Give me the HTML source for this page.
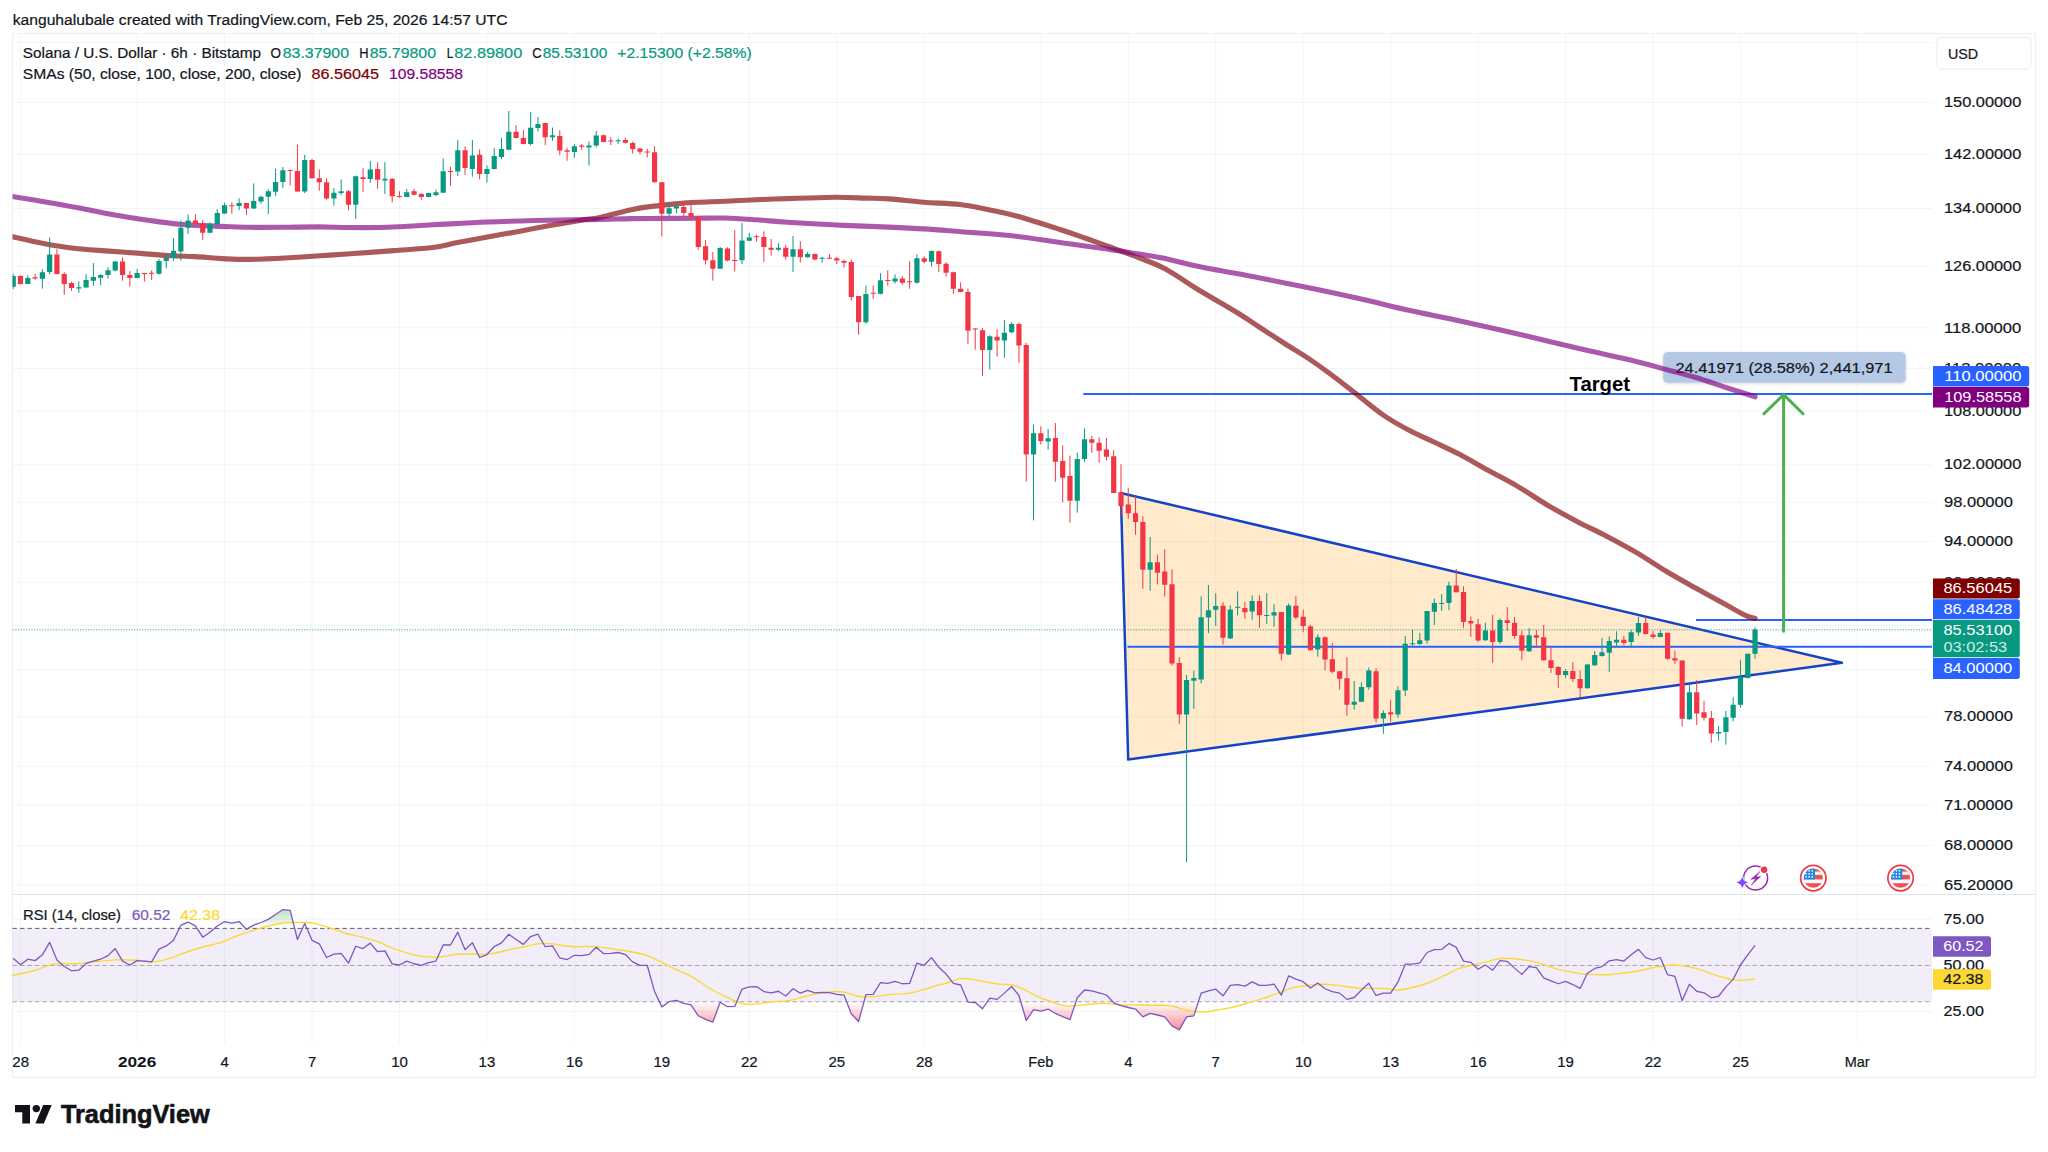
<!DOCTYPE html>
<html lang="en"><head><meta charset="utf-8"><title>SOLUSD chart</title>
<style>html,body{margin:0;padding:0;background:#fff}svg{display:block}</style></head>
<body>
<svg width="2048" height="1152" viewBox="0 0 2048 1152" font-family='"Liberation Sans", Arial, sans-serif'>
<defs>
<linearGradient id="gOB" gradientUnits="userSpaceOnUse" x1="0" y1="928.4" x2="0" y2="900"><stop offset="0" stop-color="#4CAF50" stop-opacity="0"/><stop offset="1" stop-color="#4CAF50" stop-opacity="0.55"/></linearGradient>
<linearGradient id="gOS" gradientUnits="userSpaceOnUse" x1="0" y1="1001.8" x2="0" y2="1032"><stop offset="0" stop-color="#F23645" stop-opacity="0"/><stop offset="1" stop-color="#F23645" stop-opacity="0.6"/></linearGradient>
<clipPath id="cOB"><rect x="12.5" y="894.5" width="1919.5" height="33.89999999999998"/></clipPath>
<clipPath id="cOS"><rect x="12.5" y="1001.8" width="1919.5" height="42"/></clipPath>
<clipPath id="cPlot"><rect x="12.5" y="33.5" width="1919.5" height="861.0"/></clipPath>
<clipPath id="cFlag"><circle cx="0" cy="0" r="9.6"/></clipPath>
<filter id="sh" x="-10%" y="-30%" width="120%" height="170%"><feDropShadow dx="0" dy="0.8" stdDeviation="1.6" flood-color="#1a2a4a" flood-opacity="0.22"/></filter>
</defs>
<rect width="2048" height="1152" fill="#fff"/>
<path d="M20.50,33.5V1043.0M137.11,33.5V1043.0M224.57,33.5V1043.0M312.03,33.5V1043.0M399.49,33.5V1043.0M486.95,33.5V1043.0M574.41,33.5V1043.0M661.87,33.5V1043.0M749.32,33.5V1043.0M836.78,33.5V1043.0M924.24,33.5V1043.0M1040.86,33.5V1043.0M1128.31,33.5V1043.0M1215.77,33.5V1043.0M1303.23,33.5V1043.0M1390.69,33.5V1043.0M1478.15,33.5V1043.0M1565.61,33.5V1043.0M1653.07,33.5V1043.0M1740.53,33.5V1043.0M1857.14,33.5V1043.0M12.5,42.5H1932.0M12.5,102.50H1932.0M12.5,153.98H1932.0M12.5,208.45H1932.0M12.5,266.27H1932.0M12.5,327.89H1932.0M12.5,368.55H1932.0M12.5,411.06H1932.0M12.5,464.75H1932.0M12.5,502.33H1932.0M12.5,541.47H1932.0M12.5,582.32H1932.0M12.5,625.02H1932.0M12.5,669.76H1932.0M12.5,716.73H1932.0M12.5,766.18H1932.0M12.5,805.05H1932.0M12.5,845.61H1932.0M12.5,885.10H1932.0M12.5,919.30H1932.0M12.5,965.40H1932.0M12.5,1011.50H1932.0" stroke="#F3F4F6" stroke-width="1" fill="none"/>
<rect x="12.5" y="33.5" width="2023.0" height="1044.0" fill="none" stroke="#EFF0F2" stroke-width="1.2"/>
<path d="M12.5,894.5H2035.5" stroke="#E0E3EB" stroke-width="1.2"/>
<rect x="12.5" y="928.4" width="1919.5" height="73.39999999999998" fill="#7E57C2" fill-opacity="0.1"/>
<polygon points="12.5,928.4 13.21,958.28 20.50,964.69 27.79,959.22 35.08,960.62 42.36,954.84 49.65,942.34 56.94,960.00 64.23,966.56 71.52,970.78 78.80,970.16 86.09,963.44 93.38,961.09 100.67,959.22 107.96,955.62 115.24,948.59 122.53,961.09 129.82,965.00 137.11,960.62 144.40,961.09 151.68,961.88 158.97,949.06 166.26,945.94 173.55,940.31 180.84,925.16 188.12,922.03 195.41,925.94 202.70,937.19 209.99,932.19 217.28,925.94 224.56,921.56 231.85,923.12 239.14,921.56 246.43,929.38 253.72,925.16 261.00,922.50 268.29,919.38 275.58,914.53 282.87,909.53 290.16,910.31 297.44,939.53 304.73,923.59 312.02,940.31 319.31,943.91 326.60,957.50 333.88,954.06 341.17,953.28 348.46,963.12 355.75,946.25 363.04,948.59 370.32,943.12 377.61,951.72 384.90,950.94 392.19,963.91 399.48,965.00 406.76,961.09 414.05,963.75 421.34,965.47 428.63,962.66 435.92,961.09 443.20,945.00 450.49,945.00 457.78,932.19 465.07,949.69 472.36,942.66 479.64,957.50 486.93,954.53 494.22,946.56 501.51,942.81 508.80,934.22 516.08,939.53 523.37,944.38 530.66,936.56 537.95,934.22 545.24,946.72 552.52,945.94 559.81,957.97 567.10,959.53 574.39,955.31 581.68,955.62 588.96,954.38 596.25,947.34 603.54,953.59 610.83,953.28 618.12,952.50 625.40,954.53 632.69,961.88 639.98,965.31 647.27,965.47 654.56,991.56 661.84,1006.88 669.13,1001.72 676.42,1000.47 683.71,1003.28 691.00,1004.84 698.28,1015.78 705.57,1019.38 712.86,1022.03 720.15,1002.19 727.44,1006.72 734.72,1006.41 742.01,989.22 749.30,986.88 756.59,986.56 763.88,991.56 771.16,992.81 778.45,991.25 785.74,995.94 793.03,988.75 800.32,993.12 807.60,990.47 814.89,992.81 822.18,992.34 829.47,992.66 836.76,994.38 844.04,995.16 851.33,1013.75 858.62,1021.56 865.91,994.69 873.20,994.38 880.48,982.66 887.77,983.28 895.06,981.41 902.35,983.75 909.64,983.44 916.92,963.12 924.21,965.31 931.50,957.66 938.79,967.34 946.08,974.06 953.36,983.44 960.65,985.00 967.94,1002.03 975.23,1002.50 982.52,1008.75 989.80,998.12 997.09,999.38 1004.38,993.12 1011.67,986.56 1018.96,995.47 1026.24,1020.47 1033.53,1009.53 1040.82,1011.09 1048.11,1009.06 1055.40,1013.44 1062.68,1016.56 1069.97,1019.69 1077.26,997.81 1084.55,990.00 1091.84,990.78 1099.12,992.81 1106.41,995.00 1113.70,1002.81 1120.99,1005.62 1128.28,1007.50 1135.56,1009.06 1142.85,1016.88 1150.14,1013.44 1157.43,1015.00 1164.72,1016.88 1172.00,1025.94 1179.29,1029.84 1186.58,1016.88 1193.87,1015.78 1201.16,993.12 1208.44,990.78 1215.73,989.22 1223.02,995.78 1230.31,985.31 1237.60,984.53 1244.88,986.09 1252.17,981.88 1259.46,985.31 1266.75,985.31 1274.04,984.06 1281.32,995.16 1288.61,975.94 1295.90,979.06 1303.19,981.72 1310.48,987.97 1317.76,982.97 1325.05,988.75 1332.34,991.56 1339.63,993.12 1346.92,999.38 1354.20,997.50 1361.49,990.00 1368.78,983.28 1376.07,995.47 1383.36,993.12 1390.64,993.12 1397.93,982.19 1405.22,964.22 1412.51,964.22 1419.80,962.97 1427.08,952.50 1434.37,949.69 1441.66,949.38 1448.95,943.44 1456.24,947.34 1463.52,961.09 1470.81,962.34 1478.10,969.22 1485.39,965.00 1492.68,970.16 1499.96,960.62 1507.25,961.41 1514.54,968.12 1521.83,974.38 1529.12,966.56 1536.40,967.66 1543.69,977.97 1550.98,980.94 1558.27,983.75 1565.56,981.41 1572.84,984.53 1580.13,988.44 1587.42,973.28 1594.71,968.44 1602.00,966.56 1609.28,960.78 1616.57,959.53 1623.86,961.09 1631.15,954.84 1638.44,949.38 1645.72,957.66 1653.01,960.00 1660.30,957.50 1667.59,974.69 1674.88,976.41 1682.16,1000.47 1689.45,984.22 1696.74,991.25 1704.03,992.81 1711.32,997.81 1718.60,996.25 1725.89,986.88 1733.18,979.38 1740.47,965.00 1747.76,954.84 1755.04,945.47 1755.04,928.4" fill="url(#gOB)" clip-path="url(#cOB)"/>
<polygon points="12.5,1001.8 13.21,958.28 20.50,964.69 27.79,959.22 35.08,960.62 42.36,954.84 49.65,942.34 56.94,960.00 64.23,966.56 71.52,970.78 78.80,970.16 86.09,963.44 93.38,961.09 100.67,959.22 107.96,955.62 115.24,948.59 122.53,961.09 129.82,965.00 137.11,960.62 144.40,961.09 151.68,961.88 158.97,949.06 166.26,945.94 173.55,940.31 180.84,925.16 188.12,922.03 195.41,925.94 202.70,937.19 209.99,932.19 217.28,925.94 224.56,921.56 231.85,923.12 239.14,921.56 246.43,929.38 253.72,925.16 261.00,922.50 268.29,919.38 275.58,914.53 282.87,909.53 290.16,910.31 297.44,939.53 304.73,923.59 312.02,940.31 319.31,943.91 326.60,957.50 333.88,954.06 341.17,953.28 348.46,963.12 355.75,946.25 363.04,948.59 370.32,943.12 377.61,951.72 384.90,950.94 392.19,963.91 399.48,965.00 406.76,961.09 414.05,963.75 421.34,965.47 428.63,962.66 435.92,961.09 443.20,945.00 450.49,945.00 457.78,932.19 465.07,949.69 472.36,942.66 479.64,957.50 486.93,954.53 494.22,946.56 501.51,942.81 508.80,934.22 516.08,939.53 523.37,944.38 530.66,936.56 537.95,934.22 545.24,946.72 552.52,945.94 559.81,957.97 567.10,959.53 574.39,955.31 581.68,955.62 588.96,954.38 596.25,947.34 603.54,953.59 610.83,953.28 618.12,952.50 625.40,954.53 632.69,961.88 639.98,965.31 647.27,965.47 654.56,991.56 661.84,1006.88 669.13,1001.72 676.42,1000.47 683.71,1003.28 691.00,1004.84 698.28,1015.78 705.57,1019.38 712.86,1022.03 720.15,1002.19 727.44,1006.72 734.72,1006.41 742.01,989.22 749.30,986.88 756.59,986.56 763.88,991.56 771.16,992.81 778.45,991.25 785.74,995.94 793.03,988.75 800.32,993.12 807.60,990.47 814.89,992.81 822.18,992.34 829.47,992.66 836.76,994.38 844.04,995.16 851.33,1013.75 858.62,1021.56 865.91,994.69 873.20,994.38 880.48,982.66 887.77,983.28 895.06,981.41 902.35,983.75 909.64,983.44 916.92,963.12 924.21,965.31 931.50,957.66 938.79,967.34 946.08,974.06 953.36,983.44 960.65,985.00 967.94,1002.03 975.23,1002.50 982.52,1008.75 989.80,998.12 997.09,999.38 1004.38,993.12 1011.67,986.56 1018.96,995.47 1026.24,1020.47 1033.53,1009.53 1040.82,1011.09 1048.11,1009.06 1055.40,1013.44 1062.68,1016.56 1069.97,1019.69 1077.26,997.81 1084.55,990.00 1091.84,990.78 1099.12,992.81 1106.41,995.00 1113.70,1002.81 1120.99,1005.62 1128.28,1007.50 1135.56,1009.06 1142.85,1016.88 1150.14,1013.44 1157.43,1015.00 1164.72,1016.88 1172.00,1025.94 1179.29,1029.84 1186.58,1016.88 1193.87,1015.78 1201.16,993.12 1208.44,990.78 1215.73,989.22 1223.02,995.78 1230.31,985.31 1237.60,984.53 1244.88,986.09 1252.17,981.88 1259.46,985.31 1266.75,985.31 1274.04,984.06 1281.32,995.16 1288.61,975.94 1295.90,979.06 1303.19,981.72 1310.48,987.97 1317.76,982.97 1325.05,988.75 1332.34,991.56 1339.63,993.12 1346.92,999.38 1354.20,997.50 1361.49,990.00 1368.78,983.28 1376.07,995.47 1383.36,993.12 1390.64,993.12 1397.93,982.19 1405.22,964.22 1412.51,964.22 1419.80,962.97 1427.08,952.50 1434.37,949.69 1441.66,949.38 1448.95,943.44 1456.24,947.34 1463.52,961.09 1470.81,962.34 1478.10,969.22 1485.39,965.00 1492.68,970.16 1499.96,960.62 1507.25,961.41 1514.54,968.12 1521.83,974.38 1529.12,966.56 1536.40,967.66 1543.69,977.97 1550.98,980.94 1558.27,983.75 1565.56,981.41 1572.84,984.53 1580.13,988.44 1587.42,973.28 1594.71,968.44 1602.00,966.56 1609.28,960.78 1616.57,959.53 1623.86,961.09 1631.15,954.84 1638.44,949.38 1645.72,957.66 1653.01,960.00 1660.30,957.50 1667.59,974.69 1674.88,976.41 1682.16,1000.47 1689.45,984.22 1696.74,991.25 1704.03,992.81 1711.32,997.81 1718.60,996.25 1725.89,986.88 1733.18,979.38 1740.47,965.00 1747.76,954.84 1755.04,945.47 1755.04,1001.8" fill="url(#gOS)" clip-path="url(#cOS)"/>
<path d="M12.5,928.4H1932.0" stroke="#5D606B" stroke-width="1" stroke-dasharray="4.4 3.1" fill="none"/>
<path d="M12.5,965.5H1932.0" stroke="#A3A6AF" stroke-width="1" stroke-dasharray="4.4 3.1" fill="none"/>
<path d="M12.5,1001.8H1932.0" stroke="#A3A6AF" stroke-width="1.1" stroke-dasharray="4.4 3.1" fill="none"/>
<path d="M12.50,975.46C12.71,975.41 10.10,975.99 13.75,975.16C17.40,974.33 27.55,972.34 34.38,970.47C41.20,968.59 47.92,965.03 54.69,963.91C61.46,962.79 68.49,964.09 75.00,963.75C81.51,963.41 86.98,962.53 93.75,961.88C100.52,961.22 108.33,960.10 115.62,959.84C122.92,959.58 131.51,959.97 137.50,960.31C143.49,960.65 147.40,961.88 151.56,961.88C155.73,961.88 158.85,961.09 162.50,960.31C166.15,959.53 169.27,958.62 173.44,957.19C177.60,955.76 182.55,953.41 187.50,951.72C192.45,950.03 197.92,948.46 203.12,947.03C208.33,945.60 213.54,944.82 218.75,943.12C223.96,941.43 229.17,938.83 234.38,936.88C239.58,934.92 244.79,933.10 250.00,931.41C255.21,929.71 260.42,928.07 265.62,926.72C270.83,925.36 277.08,923.98 281.25,923.28C285.42,922.58 286.72,922.63 290.62,922.50C294.53,922.37 300.52,922.32 304.69,922.50C308.85,922.68 311.20,922.63 315.62,923.59C320.05,924.56 326.04,926.59 331.25,928.28C336.46,929.97 341.67,932.27 346.88,933.75C352.08,935.23 357.29,935.83 362.50,937.19C367.71,938.54 372.92,939.97 378.12,941.88C383.33,943.78 388.54,946.64 393.75,948.59C398.96,950.55 404.69,952.29 409.38,953.59C414.06,954.90 417.45,955.81 421.88,956.41C426.30,957.01 432.29,957.19 435.94,957.19C439.58,957.19 440.36,956.88 443.75,956.41C447.14,955.94 451.56,954.77 456.25,954.38C460.94,953.98 467.19,954.04 471.88,954.06C476.56,954.09 480.21,954.74 484.38,954.53C488.54,954.32 492.45,953.67 496.88,952.81C501.30,951.95 505.99,950.47 510.94,949.38C515.89,948.28 521.88,947.21 526.56,946.25C531.25,945.29 535.16,944.04 539.06,943.59C542.97,943.15 546.09,943.28 550.00,943.59C553.91,943.91 558.33,944.95 562.50,945.47C566.67,945.99 569.79,946.54 575.00,946.72C580.21,946.90 588.80,946.38 593.75,946.56C598.70,946.74 601.04,947.34 604.69,947.81C608.33,948.28 611.20,948.72 615.62,949.38C620.05,950.03 626.04,950.68 631.25,951.72C636.46,952.76 641.67,953.80 646.88,955.62C652.08,957.45 657.29,960.18 662.50,962.66C667.71,965.13 673.70,968.39 678.12,970.47C682.55,972.55 685.16,973.07 689.06,975.16C692.97,977.24 697.66,980.49 701.56,982.97C705.47,985.44 708.59,987.79 712.50,990.00C716.41,992.21 721.09,994.38 725.00,996.25C728.91,998.12 732.81,1000.00 735.94,1001.25C739.06,1002.50 741.41,1003.23 743.75,1003.75C746.09,1004.27 747.40,1004.40 750.00,1004.38C752.60,1004.35 755.73,1004.04 759.38,1003.59C763.02,1003.15 767.19,1002.21 771.88,1001.72C776.56,1001.22 782.29,1001.41 787.50,1000.62C792.71,999.84 798.44,998.15 803.12,997.03C807.81,995.91 811.72,994.69 815.62,993.91C819.53,993.12 822.92,992.73 826.56,992.34C830.21,991.95 834.38,991.56 837.50,991.56C840.62,991.56 841.93,991.56 845.31,992.34C848.70,993.12 853.39,995.52 857.81,996.25C862.24,996.98 866.67,996.98 871.88,996.72C877.08,996.46 882.81,995.29 889.06,994.69C895.31,994.09 903.65,993.96 909.38,993.12C915.10,992.29 919.01,990.94 923.44,989.69C927.86,988.44 932.03,986.74 935.94,985.62C939.84,984.51 942.71,984.14 946.88,982.97C951.04,981.80 956.25,979.11 960.94,978.59C965.62,978.07 970.57,979.24 975.00,979.84C979.43,980.44 983.33,981.46 987.50,982.19C991.67,982.92 996.09,983.83 1000.00,984.22C1003.91,984.61 1007.81,984.04 1010.94,984.53C1014.06,985.03 1015.62,985.89 1018.75,987.19C1021.88,988.49 1026.04,990.57 1029.69,992.34C1033.33,994.11 1036.98,996.25 1040.62,997.81C1044.27,999.38 1047.92,1000.47 1051.56,1001.72C1055.21,1002.97 1059.38,1004.58 1062.50,1005.31C1065.62,1006.04 1066.67,1006.17 1070.31,1006.09C1073.96,1006.02 1078.91,1005.31 1084.38,1004.84C1089.84,1004.38 1097.40,1003.28 1103.12,1003.28C1108.85,1003.28 1113.54,1004.58 1118.75,1004.84C1123.96,1005.10 1129.17,1004.77 1134.38,1004.84C1139.58,1004.92 1144.01,1005.18 1150.00,1005.31C1155.99,1005.44 1165.10,1005.05 1170.31,1005.62C1175.52,1006.20 1177.34,1007.76 1181.25,1008.75C1185.16,1009.74 1189.58,1011.04 1193.75,1011.56C1197.92,1012.08 1202.60,1012.08 1206.25,1011.88C1209.90,1011.67 1211.46,1011.04 1215.62,1010.31C1219.79,1009.58 1226.04,1008.67 1231.25,1007.50C1236.46,1006.33 1241.67,1004.77 1246.88,1003.28C1252.08,1001.80 1257.29,1000.29 1262.50,998.59C1267.71,996.90 1272.92,994.95 1278.12,993.12C1283.33,991.30 1288.54,988.96 1293.75,987.66C1298.96,986.35 1304.17,985.89 1309.38,985.31C1314.58,984.74 1319.79,984.17 1325.00,984.22C1330.21,984.27 1335.42,985.00 1340.62,985.62C1345.83,986.25 1351.04,987.50 1356.25,987.97C1361.46,988.44 1367.19,988.36 1371.88,988.44C1376.56,988.52 1380.21,988.18 1384.38,988.44C1388.54,988.70 1392.71,990.05 1396.88,990.00C1401.04,989.95 1405.21,988.96 1409.38,988.12C1413.54,987.29 1417.71,986.30 1421.88,985.00C1426.04,983.70 1430.21,982.08 1434.38,980.31C1438.54,978.54 1442.97,976.28 1446.88,974.38C1450.78,972.47 1453.39,970.47 1457.81,968.91C1462.24,967.34 1468.23,966.30 1473.44,965.00C1478.65,963.70 1484.38,962.19 1489.06,961.09C1493.75,960.00 1497.14,958.83 1501.56,958.44C1505.99,958.05 1510.16,958.18 1515.62,958.75C1521.09,959.32 1529.17,960.70 1534.38,961.88C1539.58,963.05 1542.71,964.48 1546.88,965.78C1551.04,967.08 1554.69,968.52 1559.38,969.69C1564.06,970.86 1570.31,972.03 1575.00,972.81C1579.69,973.59 1581.77,974.06 1587.50,974.38C1593.23,974.69 1603.12,974.95 1609.38,974.69C1615.62,974.43 1619.79,973.52 1625.00,972.81C1630.21,972.11 1635.42,971.46 1640.62,970.47C1645.83,969.48 1652.08,967.66 1656.25,966.88C1660.42,966.09 1662.76,966.09 1665.62,965.78C1668.49,965.47 1669.79,964.87 1673.44,965.00C1677.08,965.13 1683.07,965.78 1687.50,966.56C1691.93,967.34 1696.09,968.52 1700.00,969.69C1703.91,970.86 1707.03,972.29 1710.94,973.59C1714.84,974.90 1719.53,976.46 1723.44,977.50C1727.34,978.54 1731.51,979.38 1734.38,979.84C1737.24,980.31 1738.28,980.31 1740.62,980.31C1742.97,980.31 1746.02,980.10 1748.44,979.84C1750.86,979.58 1754.04,978.93 1755.16,978.75" stroke="#FDD835" stroke-width="1.4" fill="none" stroke-linejoin="round"/>
<polyline points="13.21,958.28 20.50,964.69 27.79,959.22 35.08,960.62 42.36,954.84 49.65,942.34 56.94,960.00 64.23,966.56 71.52,970.78 78.80,970.16 86.09,963.44 93.38,961.09 100.67,959.22 107.96,955.62 115.24,948.59 122.53,961.09 129.82,965.00 137.11,960.62 144.40,961.09 151.68,961.88 158.97,949.06 166.26,945.94 173.55,940.31 180.84,925.16 188.12,922.03 195.41,925.94 202.70,937.19 209.99,932.19 217.28,925.94 224.56,921.56 231.85,923.12 239.14,921.56 246.43,929.38 253.72,925.16 261.00,922.50 268.29,919.38 275.58,914.53 282.87,909.53 290.16,910.31 297.44,939.53 304.73,923.59 312.02,940.31 319.31,943.91 326.60,957.50 333.88,954.06 341.17,953.28 348.46,963.12 355.75,946.25 363.04,948.59 370.32,943.12 377.61,951.72 384.90,950.94 392.19,963.91 399.48,965.00 406.76,961.09 414.05,963.75 421.34,965.47 428.63,962.66 435.92,961.09 443.20,945.00 450.49,945.00 457.78,932.19 465.07,949.69 472.36,942.66 479.64,957.50 486.93,954.53 494.22,946.56 501.51,942.81 508.80,934.22 516.08,939.53 523.37,944.38 530.66,936.56 537.95,934.22 545.24,946.72 552.52,945.94 559.81,957.97 567.10,959.53 574.39,955.31 581.68,955.62 588.96,954.38 596.25,947.34 603.54,953.59 610.83,953.28 618.12,952.50 625.40,954.53 632.69,961.88 639.98,965.31 647.27,965.47 654.56,991.56 661.84,1006.88 669.13,1001.72 676.42,1000.47 683.71,1003.28 691.00,1004.84 698.28,1015.78 705.57,1019.38 712.86,1022.03 720.15,1002.19 727.44,1006.72 734.72,1006.41 742.01,989.22 749.30,986.88 756.59,986.56 763.88,991.56 771.16,992.81 778.45,991.25 785.74,995.94 793.03,988.75 800.32,993.12 807.60,990.47 814.89,992.81 822.18,992.34 829.47,992.66 836.76,994.38 844.04,995.16 851.33,1013.75 858.62,1021.56 865.91,994.69 873.20,994.38 880.48,982.66 887.77,983.28 895.06,981.41 902.35,983.75 909.64,983.44 916.92,963.12 924.21,965.31 931.50,957.66 938.79,967.34 946.08,974.06 953.36,983.44 960.65,985.00 967.94,1002.03 975.23,1002.50 982.52,1008.75 989.80,998.12 997.09,999.38 1004.38,993.12 1011.67,986.56 1018.96,995.47 1026.24,1020.47 1033.53,1009.53 1040.82,1011.09 1048.11,1009.06 1055.40,1013.44 1062.68,1016.56 1069.97,1019.69 1077.26,997.81 1084.55,990.00 1091.84,990.78 1099.12,992.81 1106.41,995.00 1113.70,1002.81 1120.99,1005.62 1128.28,1007.50 1135.56,1009.06 1142.85,1016.88 1150.14,1013.44 1157.43,1015.00 1164.72,1016.88 1172.00,1025.94 1179.29,1029.84 1186.58,1016.88 1193.87,1015.78 1201.16,993.12 1208.44,990.78 1215.73,989.22 1223.02,995.78 1230.31,985.31 1237.60,984.53 1244.88,986.09 1252.17,981.88 1259.46,985.31 1266.75,985.31 1274.04,984.06 1281.32,995.16 1288.61,975.94 1295.90,979.06 1303.19,981.72 1310.48,987.97 1317.76,982.97 1325.05,988.75 1332.34,991.56 1339.63,993.12 1346.92,999.38 1354.20,997.50 1361.49,990.00 1368.78,983.28 1376.07,995.47 1383.36,993.12 1390.64,993.12 1397.93,982.19 1405.22,964.22 1412.51,964.22 1419.80,962.97 1427.08,952.50 1434.37,949.69 1441.66,949.38 1448.95,943.44 1456.24,947.34 1463.52,961.09 1470.81,962.34 1478.10,969.22 1485.39,965.00 1492.68,970.16 1499.96,960.62 1507.25,961.41 1514.54,968.12 1521.83,974.38 1529.12,966.56 1536.40,967.66 1543.69,977.97 1550.98,980.94 1558.27,983.75 1565.56,981.41 1572.84,984.53 1580.13,988.44 1587.42,973.28 1594.71,968.44 1602.00,966.56 1609.28,960.78 1616.57,959.53 1623.86,961.09 1631.15,954.84 1638.44,949.38 1645.72,957.66 1653.01,960.00 1660.30,957.50 1667.59,974.69 1674.88,976.41 1682.16,1000.47 1689.45,984.22 1696.74,991.25 1704.03,992.81 1711.32,997.81 1718.60,996.25 1725.89,986.88 1733.18,979.38 1740.47,965.00 1747.76,954.84 1755.04,945.47" stroke="#7E57C2" stroke-width="1.3" fill="none" stroke-linejoin="round"/>
<polygon points="1120.8,493.0 1128.2,759.6 1841.9,662.8" fill="#FF9800" fill-opacity="0.2" stroke="#1443C8" stroke-width="2.5" stroke-linejoin="round"/>
<path d="M1083.3,394H1932.0M1696,620H1932.0M1127.5,646.7H1932.0" stroke="#2962FF" stroke-width="2" fill="none"/>
<path d="M12.5,629.8H1932.0" stroke="#089981" stroke-width="1" stroke-dasharray="1.3 1.4" opacity="0.75" fill="none"/>
<rect x="1663.2" y="352" width="242.5" height="30.8" rx="4.5" fill="#AAC1E2" fill-opacity="0.8" filter="url(#sh)"/>
<text x="1675.40" y="373.20" font-size="15.5" fill="#131722" stroke="#131722" stroke-width="0.22" textLength="217.20" lengthAdjust="spacingAndGlyphs">24.41971 (28.58%) 2,441,971</text>
<g clip-path="url(#cPlot)">
<path d="M12.50,236.70C12.71,236.75 10.62,236.30 13.75,237.00C16.88,237.70 25.26,239.60 31.25,240.90C37.24,242.20 41.89,243.49 49.70,244.80C57.51,246.11 68.15,247.70 78.10,248.75C88.05,249.80 98.98,250.32 109.40,251.10C119.82,251.88 130.18,252.62 140.60,253.40C151.02,254.18 162.78,255.27 171.90,255.80C181.02,256.33 187.49,256.17 195.30,256.60C203.11,257.03 210.93,257.93 218.75,258.40C226.57,258.87 234.39,259.32 242.20,259.40C250.01,259.48 257.80,259.17 265.60,258.90C273.40,258.63 279.93,258.32 289.00,257.80C298.07,257.28 310.35,256.43 320.00,255.80C329.65,255.17 334.61,254.87 346.90,254.00C359.19,253.13 379.43,251.68 393.75,250.60C408.07,249.52 422.38,248.80 432.80,247.50C443.22,246.20 447.13,244.57 456.25,242.80C465.37,241.03 477.08,238.80 487.50,236.90C497.92,235.00 508.33,233.28 518.75,231.40C529.17,229.52 539.58,227.47 550.00,225.60C560.42,223.73 572.92,221.57 581.25,220.20C589.58,218.83 591.67,219.13 600.00,217.40C608.33,215.67 622.65,211.63 631.25,209.80C639.85,207.97 643.79,207.43 651.60,206.40C659.41,205.37 670.55,204.28 678.10,203.60C685.65,202.92 689.08,202.69 696.90,202.30C704.72,201.91 715.11,201.68 725.00,201.25C734.89,200.82 745.83,200.14 756.25,199.70C766.67,199.26 777.08,198.93 787.50,198.60C797.92,198.27 810.42,197.92 818.75,197.70C827.08,197.48 829.69,197.23 837.50,197.30C845.31,197.37 857.02,197.83 865.60,198.10C874.18,198.37 879.31,198.20 889.00,198.90C898.69,199.60 911.92,201.37 923.75,202.30C935.58,203.23 948.96,203.22 960.00,204.50C971.04,205.78 980.42,208.04 990.00,210.00C999.58,211.96 1005.83,213.00 1017.50,216.25C1029.17,219.50 1048.75,225.88 1060.00,229.50C1071.25,233.12 1076.67,235.08 1085.00,238.00C1093.33,240.92 1101.67,243.96 1110.00,247.00C1118.33,250.04 1125.83,252.62 1135.00,256.25C1144.17,259.88 1154.58,263.25 1165.00,268.75C1175.42,274.25 1185.83,282.17 1197.50,289.25C1209.17,296.33 1224.58,304.88 1235.00,311.25C1245.42,317.62 1251.67,322.08 1260.00,327.50C1268.33,332.92 1276.67,338.42 1285.00,343.75C1293.33,349.08 1301.67,353.88 1310.00,359.50C1318.33,365.12 1326.67,371.25 1335.00,377.50C1343.33,383.75 1351.67,390.54 1360.00,397.00C1368.33,403.46 1376.67,410.62 1385.00,416.25C1393.33,421.88 1401.67,426.38 1410.00,430.75C1418.33,435.12 1426.83,438.61 1435.00,442.50C1443.17,446.39 1450.07,449.42 1459.00,454.10C1467.93,458.78 1478.77,465.18 1488.60,470.60C1498.43,476.02 1508.17,480.83 1518.00,486.60C1527.83,492.37 1537.77,499.40 1547.60,505.20C1557.43,511.00 1567.17,516.23 1577.00,521.40C1586.83,526.57 1596.73,531.03 1606.60,536.20C1616.47,541.37 1626.35,546.60 1636.20,552.40C1646.05,558.20 1655.87,565.10 1665.70,571.00C1675.53,576.90 1685.37,582.30 1695.20,587.80C1705.03,593.30 1716.33,599.40 1724.70,604.00C1733.07,608.60 1740.33,612.98 1745.40,615.40C1750.47,617.82 1753.48,617.98 1755.10,618.50" stroke="#800000" stroke-opacity="0.65" stroke-width="5.1" fill="none" stroke-linecap="round" stroke-linejoin="round"/>
<path d="M12.50,196.50C12.71,196.53 8.02,195.75 13.75,196.70C19.48,197.65 36.17,200.35 46.90,202.20C57.62,204.05 67.68,205.82 78.10,207.80C88.52,209.78 99.50,212.28 109.40,214.10C119.30,215.92 129.69,217.53 137.50,218.75C145.31,219.97 149.22,220.49 156.25,221.40C163.28,222.31 171.89,223.50 179.70,224.20C187.51,224.90 195.28,225.20 203.10,225.60C210.92,226.00 218.78,226.32 226.60,226.60C234.42,226.88 240.89,227.18 250.00,227.30C259.11,227.42 269.58,227.37 281.25,227.30C292.92,227.23 309.06,226.87 320.00,226.90C330.94,226.93 337.22,227.40 346.90,227.50C356.58,227.60 369.25,227.63 378.10,227.50C386.95,227.37 389.58,227.22 400.00,226.70C410.42,226.18 426.02,225.18 440.60,224.40C455.18,223.62 471.87,222.65 487.50,222.00C503.13,221.35 520.08,220.88 534.40,220.50C548.72,220.12 562.47,219.87 573.40,219.70C584.33,219.53 590.36,219.68 600.00,219.50C609.64,219.32 620.83,218.78 631.25,218.60C641.67,218.42 652.08,218.45 662.50,218.40C672.92,218.35 683.33,218.37 693.75,218.30C704.17,218.23 714.58,217.75 725.00,218.00C735.42,218.25 745.83,219.08 756.25,219.80C766.67,220.52 774.17,221.43 787.50,222.30C800.83,223.17 820.33,224.23 836.25,225.00C852.17,225.77 868.42,226.25 883.00,226.90C897.58,227.55 910.71,228.10 923.75,228.90C936.79,229.70 946.88,230.60 961.25,231.70C975.62,232.80 993.54,233.70 1010.00,235.50C1026.46,237.30 1043.33,240.17 1060.00,242.50C1076.67,244.83 1093.33,247.00 1110.00,249.50C1126.67,252.00 1145.42,254.71 1160.00,257.50C1174.58,260.29 1180.83,262.83 1197.50,266.25C1214.17,269.67 1241.25,274.38 1260.00,278.00C1278.75,281.62 1293.33,284.54 1310.00,288.00C1326.67,291.46 1343.33,295.00 1360.00,298.75C1376.67,302.50 1393.50,306.84 1410.00,310.50C1426.50,314.16 1441.00,316.78 1459.00,320.70C1477.00,324.62 1498.33,329.43 1518.00,334.00C1537.67,338.57 1557.30,343.53 1577.00,348.10C1596.70,352.67 1621.42,357.85 1636.20,361.40C1650.98,364.95 1655.87,366.75 1665.70,369.40C1675.53,372.05 1685.37,374.35 1695.20,377.30C1705.03,380.25 1714.72,383.85 1724.70,387.10C1734.68,390.35 1750.03,395.18 1755.10,396.80" stroke="#800080" stroke-opacity="0.65" stroke-width="5.1" fill="none" stroke-linecap="round" stroke-linejoin="round"/>
<path d="M13.21,273.75V289.06M27.79,275.31V283.91M42.36,269.06V288.59M49.65,237.50V274.53M78.80,281.25V292.81M86.09,274.06V287.81M93.38,263.12V285.94M100.67,274.06V285.16M107.96,267.19V278.75M115.24,260.94V271.41M137.11,269.06V278.44M158.97,258.91V274.53M166.26,253.44V268.28M173.55,238.12V260.94M180.84,220.31V260.47M188.12,214.38V233.91M209.99,222.50V233.12M217.28,209.22V226.88M224.56,202.66V214.06M239.14,198.28V210.16M253.72,183.44V208.91M261.00,195.62V203.75M268.29,189.38V213.91M275.58,168.75V196.09M282.87,167.03V187.81M304.73,154.84V193.12M333.88,188.12V205.62M341.17,179.38V195.00M355.75,175.62V218.91M370.32,161.09V182.97M384.90,162.19V193.91M406.76,188.91V197.19M428.63,192.66V197.19M435.92,189.53V196.25M443.20,158.44V193.12M457.78,140.00V175.94M472.36,140.00V176.72M486.93,165.47V182.50M494.22,148.12V169.38M501.51,137.66V159.22M508.80,111.09V150.16M530.66,112.19V145.47M537.95,116.88V131.41M552.52,127.50V140.78M574.39,143.91V157.66M588.96,141.25V165.47M596.25,130.94V147.50M618.12,138.44V143.75M669.13,202.81V216.88M676.42,204.06V213.28M720.15,246.88V268.75M742.01,223.12V264.06M749.30,232.81V241.09M778.45,243.12V251.25M793.03,236.09V271.88M807.60,252.03V257.50M822.18,256.72V262.66M865.91,285.47V323.75M880.48,273.12V294.53M895.06,274.22V283.59M916.92,254.22V283.59M931.50,250.47V266.72M989.80,335.16V369.53M1004.38,320.00V357.81M1011.67,322.19V333.28M1033.53,424.69V520.47M1048.11,429.06V449.69M1077.26,452.50V512.66M1084.55,428.28V461.88M1150.14,536.88V590.78M1186.58,674.84V862.19M1193.87,670.62V708.91M1201.16,596.25V683.44M1208.44,585.00V633.12M1215.73,593.28V625.94M1230.31,605.31V638.91M1237.60,591.25V615.47M1252.17,595.16V619.84M1266.75,593.12V623.75M1274.04,604.22V626.72M1288.61,603.44V654.84M1317.76,634.22V656.56M1354.20,681.09V709.69M1361.49,682.34V702.19M1368.78,667.50V689.69M1383.36,710.31V733.75M1397.93,686.25V717.81M1405.22,635.94V696.09M1412.51,629.69V645.62M1419.80,632.81V645.00M1427.08,610.94V643.75M1434.37,598.75V625.00M1441.66,594.06V610.94M1448.95,581.72V610.16M1485.39,622.66V640.94M1499.96,618.28V643.75M1529.12,628.12V652.03M1565.56,669.06V678.12M1587.42,663.75V688.59M1594.71,651.09V665.94M1602.00,637.97V656.72M1609.28,636.41V671.88M1616.57,631.25V647.19M1631.15,629.69V647.19M1638.44,616.88V635.94M1660.30,630.16V637.19M1689.45,684.46V719.89M1718.60,726.09V740.55M1725.89,711.03V744.69M1733.18,697.31V721.37M1740.47,660.11V707.64M1747.76,653.76V678.56M1755.04,627.34V658.63" stroke="#089981" stroke-width="1" fill="none"/>
<path d="M10.61,276.09h5.2V286.72h-5.2zM25.19,278.12h5.2V283.91h-5.2zM39.76,272.19h5.2V278.75h-5.2zM47.05,254.53h5.2V271.88h-5.2zM76.20,287.34h5.2V288.59h-5.2zM83.49,280.00h5.2V287.50h-5.2zM90.78,276.88h5.2V280.78h-5.2zM98.07,275.00h5.2V277.66h-5.2zM105.36,270.16h5.2V275.00h-5.2zM112.64,261.56h5.2V270.62h-5.2zM134.51,272.97h5.2V278.12h-5.2zM156.37,260.94h5.2V273.75h-5.2zM163.66,257.66h5.2V260.94h-5.2zM170.95,250.78h5.2V258.12h-5.2zM178.24,227.66h5.2V251.56h-5.2zM185.52,220.62h5.2V227.66h-5.2zM207.39,223.75h5.2V232.81h-5.2zM214.68,213.12h5.2V224.06h-5.2zM221.96,205.31h5.2V213.59h-5.2zM236.54,202.97h5.2V206.09h-5.2zM251.12,201.09h5.2V208.59h-5.2zM258.40,196.72h5.2V201.56h-5.2zM265.69,191.25h5.2V196.72h-5.2zM272.98,182.03h5.2V191.72h-5.2zM280.27,170.16h5.2V182.03h-5.2zM302.13,160.00h5.2V191.56h-5.2zM331.28,192.81h5.2V198.59h-5.2zM338.57,191.25h5.2V193.12h-5.2zM353.15,176.25h5.2V204.84h-5.2zM367.72,169.38h5.2V179.06h-5.2zM382.30,178.75h5.2V180.62h-5.2zM404.16,192.34h5.2V196.88h-5.2zM426.03,193.12h5.2V196.88h-5.2zM433.32,192.34h5.2V195.00h-5.2zM440.60,171.25h5.2V192.66h-5.2zM455.18,150.16h5.2V171.56h-5.2zM469.76,155.62h5.2V168.91h-5.2zM484.33,168.91h5.2V173.91h-5.2zM491.62,156.09h5.2V168.91h-5.2zM498.91,148.91h5.2V156.88h-5.2zM506.20,131.72h5.2V149.69h-5.2zM528.06,127.81h5.2V143.91h-5.2zM535.35,124.06h5.2V127.97h-5.2zM549.92,135.31h5.2V137.34h-5.2zM571.79,146.25h5.2V151.88h-5.2zM586.36,145.62h5.2V147.50h-5.2zM593.65,135.62h5.2V145.62h-5.2zM615.52,140.20h5.2V141.20h-5.2zM666.53,208.28h5.2V213.75h-5.2zM673.82,206.25h5.2V208.59h-5.2zM717.55,248.12h5.2V268.75h-5.2zM739.41,240.62h5.2V260.31h-5.2zM746.70,237.50h5.2V240.78h-5.2zM775.85,247.81h5.2V249.69h-5.2zM790.43,249.22h5.2V256.72h-5.2zM805.00,253.91h5.2V257.19h-5.2zM819.58,257.78h5.2V258.78h-5.2zM863.31,294.06h5.2V322.19h-5.2zM877.88,280.16h5.2V293.75h-5.2zM892.46,278.59h5.2V281.56h-5.2zM914.32,258.28h5.2V282.81h-5.2zM928.90,251.09h5.2V261.72h-5.2zM987.20,336.25h5.2V350.00h-5.2zM1001.78,332.81h5.2V340.62h-5.2zM1009.07,323.91h5.2V332.34h-5.2zM1030.93,433.28h5.2V454.38h-5.2zM1045.51,438.28h5.2V441.41h-5.2zM1074.66,459.06h5.2V500.78h-5.2zM1081.95,439.22h5.2V459.06h-5.2zM1147.54,562.19h5.2V569.69h-5.2zM1183.98,680.00h5.2V714.38h-5.2zM1191.27,677.97h5.2V680.78h-5.2zM1198.56,617.34h5.2V679.53h-5.2zM1205.84,610.31h5.2V617.50h-5.2zM1213.13,606.09h5.2V609.69h-5.2zM1227.71,609.53h5.2V638.59h-5.2zM1235.00,606.69h5.2V607.69h-5.2zM1249.57,601.09h5.2V611.56h-5.2zM1264.15,614.89h5.2V615.89h-5.2zM1271.44,612.34h5.2V615.47h-5.2zM1286.01,605.62h5.2V654.53h-5.2zM1315.16,637.34h5.2V649.53h-5.2zM1351.60,701.72h5.2V704.84h-5.2zM1358.89,687.03h5.2V701.72h-5.2zM1366.18,670.62h5.2V687.34h-5.2zM1380.76,713.12h5.2V718.59h-5.2zM1395.33,690.16h5.2V714.38h-5.2zM1402.62,643.75h5.2V690.62h-5.2zM1409.91,643.17h5.2V644.17h-5.2zM1417.20,640.31h5.2V644.06h-5.2zM1424.48,610.94h5.2V640.62h-5.2zM1431.77,603.12h5.2V611.72h-5.2zM1439.06,603.02h5.2V604.02h-5.2zM1446.35,585.62h5.2V603.12h-5.2zM1482.79,630.47h5.2V640.16h-5.2zM1497.36,620.00h5.2V641.88h-5.2zM1526.52,635.16h5.2V651.25h-5.2zM1562.96,671.09h5.2V675.00h-5.2zM1584.82,664.38h5.2V688.28h-5.2zM1592.11,655.00h5.2V665.16h-5.2zM1599.40,652.34h5.2V655.94h-5.2zM1606.68,641.09h5.2V652.81h-5.2zM1613.97,639.84h5.2V642.50h-5.2zM1628.55,632.34h5.2V641.88h-5.2zM1635.84,622.97h5.2V632.50h-5.2zM1657.70,633.12h5.2V637.03h-5.2zM1686.85,692.14h5.2V719.15h-5.2zM1716.00,731.99h5.2V733.47h-5.2zM1723.29,717.23h5.2V731.99h-5.2zM1730.58,704.83h5.2V717.68h-5.2zM1737.87,677.08h5.2V704.83h-5.2zM1745.16,653.76h5.2V678.12h-5.2zM1752.44,629.56h5.2V653.76h-5.2z" fill="#089981"/>
<path d="M20.50,275.31V284.69M35.08,274.06V279.69M56.94,249.22V274.53M64.23,272.19V294.84M71.52,281.88V290.94M122.53,257.34V280.78M129.82,270.94V286.72M144.40,272.97V281.56M151.68,270.16V280.00M195.41,214.38V224.53M202.70,220.31V239.84M231.85,202.19V213.59M246.43,202.66V214.84M290.16,169.38V185.47M297.44,144.53V191.72M312.02,158.75V178.75M319.31,169.38V190.78M326.60,178.28V199.84M348.46,190.00V210.31M363.04,168.12V191.88M377.61,162.34V188.75M392.19,178.28V202.50M399.48,191.25V197.81M414.05,188.91V195.47M421.34,193.12V199.84M450.49,166.88V185.62M465.07,146.25V174.84M479.64,149.38V179.38M516.08,125.16V138.44M523.37,130.16V144.38M545.24,122.81V145.16M559.81,130.16V155.31M567.10,147.81V160.78M581.68,143.91V149.84M603.54,134.53V142.19M610.83,137.19V145.00M625.40,137.97V143.44M632.69,141.56V153.59M639.98,148.12V154.38M647.27,148.91V157.50M654.56,146.25V182.50M661.84,182.19V236.41M683.71,201.56V216.56M691.00,204.38V220.31M698.28,216.09V249.69M705.57,240.00V264.53M712.86,252.03V280.62M727.44,247.34V261.41M734.72,230.16V271.56M756.59,234.53V241.56M763.88,231.25V261.88M771.16,239.06V255.62M785.74,244.53V259.53M800.32,241.09V262.50M814.89,253.59V260.16M829.47,254.06V259.06M836.76,257.03V264.06M844.04,259.53V267.34M851.33,259.38V300.78M858.62,296.09V334.69M873.20,285.47V298.91M887.77,270.31V285.62M902.35,276.25V284.84M909.64,261.41V288.75M924.21,256.25V263.28M938.79,250.47V271.88M946.08,262.19V276.56M953.36,271.56V293.75M960.65,282.34V292.19M967.94,288.59V343.75M975.23,328.12V349.69M982.52,328.12V375.78M997.09,329.22V356.56M1018.96,322.34V362.81M1026.24,342.97V481.72M1040.82,426.25V444.53M1055.40,423.12V481.72M1062.68,445.47V502.50M1069.97,455.62V522.66M1091.84,435.94V452.81M1099.12,437.19V462.66M1106.41,437.97V460.62M1113.70,450.16V492.97M1120.99,464.22V515.62M1128.28,488.28V518.75M1135.56,496.09V534.84M1142.85,516.09V588.75M1157.43,554.38V584.53M1164.72,549.22V596.56M1172.00,569.38V665.47M1179.29,657.19V723.75M1223.02,602.19V644.38M1244.88,601.88V618.59M1259.46,595.16V627.66M1281.32,612.03V660.31M1295.90,596.25V619.38M1303.19,609.53V632.34M1310.48,624.84V650.62M1325.05,636.56V670.16M1332.34,643.12V673.28M1339.63,670.94V689.69M1346.92,657.19V715.78M1376.07,668.12V722.50M1390.64,700.16V721.72M1456.24,569.06V592.50M1463.52,586.25V627.81M1470.81,616.41V637.03M1478.10,618.75V641.88M1492.68,614.84V662.81M1507.25,607.03V630.94M1514.54,616.88V638.75M1521.83,630.47V659.84M1536.40,630.00V648.12M1543.69,625.00V660.62M1550.98,647.19V672.97M1558.27,665.94V687.81M1572.84,662.03V682.03M1580.13,670.31V697.66M1623.86,635.94V645.00M1645.72,617.19V634.38M1653.01,630.94V638.75M1667.59,632.80V660.11M1674.88,650.52V663.80M1682.16,660.55V726.53M1696.74,680.04V725.06M1704.03,700.70V720.63M1711.32,711.03V742.77" stroke="#F23645" stroke-width="1" fill="none"/>
<path d="M17.90,276.09h5.2V283.91h-5.2zM32.48,277.19h5.2V278.44h-5.2zM54.34,254.53h5.2V274.06h-5.2zM61.63,274.06h5.2V283.91h-5.2zM68.92,283.12h5.2V288.12h-5.2zM119.93,261.56h5.2V275.00h-5.2zM127.22,275.00h5.2V278.12h-5.2zM141.80,272.97h5.2V274.06h-5.2zM149.08,272.86h5.2V273.86h-5.2zM192.81,220.62h5.2V224.06h-5.2zM200.10,223.75h5.2V232.66h-5.2zM229.25,205.36h5.2V206.36h-5.2zM243.83,202.97h5.2V208.59h-5.2zM287.56,170.05h5.2V171.05h-5.2zM294.84,171.09h5.2V191.41h-5.2zM309.42,160.00h5.2V178.28h-5.2zM316.71,178.28h5.2V182.19h-5.2zM324.00,182.19h5.2V198.59h-5.2zM345.86,191.25h5.2V204.84h-5.2zM360.44,177.19h5.2V179.06h-5.2zM375.01,168.91h5.2V179.84h-5.2zM389.59,178.75h5.2V196.25h-5.2zM396.88,195.91h5.2V196.91h-5.2zM411.45,191.25h5.2V194.69h-5.2zM418.74,194.06h5.2V196.88h-5.2zM447.89,170.91h5.2V171.91h-5.2zM462.47,150.16h5.2V168.12h-5.2zM477.04,154.84h5.2V173.91h-5.2zM513.48,131.72h5.2V137.97h-5.2zM520.77,137.97h5.2V143.91h-5.2zM542.64,123.12h5.2V137.34h-5.2zM557.21,136.09h5.2V150.62h-5.2zM564.50,150.31h5.2V151.72h-5.2zM579.08,145.62h5.2V146.72h-5.2zM600.94,135.16h5.2V141.88h-5.2zM608.23,140.59h5.2V141.59h-5.2zM622.80,140.00h5.2V142.66h-5.2zM630.09,143.12h5.2V148.91h-5.2zM637.38,148.59h5.2V151.72h-5.2zM644.67,151.53h5.2V152.53h-5.2zM651.96,152.34h5.2V182.19h-5.2zM659.24,182.19h5.2V213.75h-5.2zM681.11,207.03h5.2V212.97h-5.2zM688.40,212.97h5.2V216.56h-5.2zM695.68,216.09h5.2V246.88h-5.2zM702.97,246.25h5.2V260.31h-5.2zM710.26,260.16h5.2V268.75h-5.2zM724.84,248.44h5.2V260.62h-5.2zM732.12,260.05h5.2V261.05h-5.2zM753.99,236.30h5.2V237.30h-5.2zM761.28,236.88h5.2V247.03h-5.2zM768.56,247.81h5.2V249.69h-5.2zM783.14,247.81h5.2V256.72h-5.2zM797.72,249.22h5.2V257.19h-5.2zM812.29,253.91h5.2V259.53h-5.2zM826.87,257.86h5.2V258.86h-5.2zM834.16,258.28h5.2V260.62h-5.2zM841.44,260.94h5.2V262.66h-5.2zM848.73,262.03h5.2V296.88h-5.2zM856.02,296.09h5.2V322.19h-5.2zM870.60,292.86h5.2V293.86h-5.2zM885.17,279.89h5.2V280.89h-5.2zM899.75,278.59h5.2V282.81h-5.2zM907.04,281.14h5.2V282.14h-5.2zM921.61,258.28h5.2V261.72h-5.2zM936.19,251.25h5.2V264.06h-5.2zM943.48,263.75h5.2V272.66h-5.2zM950.76,272.19h5.2V288.75h-5.2zM958.05,288.75h5.2V291.88h-5.2zM965.34,291.88h5.2V330.78h-5.2zM972.63,328.48h5.2V329.48h-5.2zM979.92,330.16h5.2V350.00h-5.2zM994.49,336.72h5.2V340.62h-5.2zM1016.36,323.91h5.2V345.62h-5.2zM1023.64,345.00h5.2V454.38h-5.2zM1038.22,433.28h5.2V441.09h-5.2zM1052.80,437.97h5.2V461.72h-5.2zM1060.08,461.09h5.2V477.81h-5.2zM1067.37,475.94h5.2V500.78h-5.2zM1089.24,439.22h5.2V442.66h-5.2zM1096.52,442.66h5.2V450.78h-5.2zM1103.81,449.38h5.2V456.72h-5.2zM1111.10,456.25h5.2V492.97h-5.2zM1118.39,492.19h5.2V505.94h-5.2zM1125.68,504.38h5.2V513.28h-5.2zM1132.96,513.28h5.2V521.88h-5.2zM1140.25,522.03h5.2V569.69h-5.2zM1154.83,562.19h5.2V572.66h-5.2zM1162.12,571.56h5.2V584.84h-5.2zM1169.40,584.22h5.2V663.59h-5.2zM1176.69,663.12h5.2V714.38h-5.2zM1220.42,605.78h5.2V637.66h-5.2zM1242.28,608.12h5.2V612.34h-5.2zM1256.86,601.09h5.2V615.16h-5.2zM1278.72,612.03h5.2V653.75h-5.2zM1293.30,605.78h5.2V617.50h-5.2zM1300.59,616.72h5.2V626.09h-5.2zM1307.88,626.41h5.2V650.16h-5.2zM1322.45,637.34h5.2V659.53h-5.2zM1329.74,659.22h5.2V671.72h-5.2zM1337.03,671.25h5.2V678.75h-5.2zM1344.32,678.28h5.2V704.84h-5.2zM1373.47,671.25h5.2V718.59h-5.2zM1388.04,712.34h5.2V714.38h-5.2zM1453.64,585.62h5.2V592.19h-5.2zM1460.92,591.88h5.2V621.88h-5.2zM1468.21,621.09h5.2V623.44h-5.2zM1475.50,624.22h5.2V640.62h-5.2zM1490.08,630.47h5.2V641.88h-5.2zM1504.65,620.31h5.2V623.12h-5.2zM1511.94,622.81h5.2V635.94h-5.2zM1519.23,635.16h5.2V650.78h-5.2zM1533.80,635.16h5.2V637.81h-5.2zM1541.09,637.19h5.2V660.16h-5.2zM1548.38,660.16h5.2V667.97h-5.2zM1555.67,666.88h5.2V675.00h-5.2zM1570.24,671.09h5.2V678.91h-5.2zM1577.53,678.91h5.2V688.28h-5.2zM1621.26,639.84h5.2V642.97h-5.2zM1643.12,622.97h5.2V633.91h-5.2zM1650.41,634.38h5.2V637.03h-5.2zM1664.99,632.80h5.2V658.63h-5.2zM1672.28,658.19h5.2V660.55h-5.2zM1679.56,660.55h5.2V718.86h-5.2zM1694.14,692.14h5.2V713.54h-5.2zM1701.43,712.21h5.2V717.82h-5.2zM1708.72,718.12h5.2V733.47h-5.2z" fill="#F23645"/>
</g>
<path d="M1783.6,631.3V395.5M1764,413.8L1783.6,394.6L1803,413.8" stroke="#4CAF50" stroke-width="3" fill="none" stroke-linecap="round" stroke-linejoin="miter"/>
<text x="1569.50" y="391.00" font-size="20" font-weight="bold" fill="#000" textLength="60.50" lengthAdjust="spacingAndGlyphs">Target</text>
<g transform="translate(1813.3,878.1)">
<circle r="12.7" fill="#fff" stroke="#F23645" stroke-width="1.7"/>
<g clip-path="url(#cFlag)"><rect x="-10" y="-10" width="20" height="20" fill="#F5F6F8"/>
<rect x="-10" y="-9.8" width="20" height="3.3" fill="#EF5350"/><rect x="-10" y="-3.2" width="20" height="4.5" fill="#EF5350"/><rect x="-10" y="5.1" width="20" height="4.8" fill="#EF5350"/>
<rect x="-10" y="-10" width="11.7" height="11.3" fill="#1E88E5"/>
<g fill="#fff"><circle cx="-7.3" cy="-7.3" r="0.85"/><circle cx="-7.3" cy="-4.3" r="0.85"/><circle cx="-7.3" cy="-1.3" r="0.85"/><circle cx="-4.2" cy="-7.3" r="0.85"/><circle cx="-4.2" cy="-4.3" r="0.85"/><circle cx="-4.2" cy="-1.3" r="0.85"/><circle cx="-1.1" cy="-7.3" r="0.85"/><circle cx="-1.1" cy="-4.3" r="0.85"/><circle cx="-1.1" cy="-1.3" r="0.85"/></g></g></g>
<g transform="translate(1900.6,878.1)">
<circle r="12.7" fill="#fff" stroke="#F23645" stroke-width="1.7"/>
<g clip-path="url(#cFlag)"><rect x="-10" y="-10" width="20" height="20" fill="#F5F6F8"/>
<rect x="-10" y="-9.8" width="20" height="3.3" fill="#EF5350"/><rect x="-10" y="-3.2" width="20" height="4.5" fill="#EF5350"/><rect x="-10" y="5.1" width="20" height="4.8" fill="#EF5350"/>
<rect x="-10" y="-10" width="11.7" height="11.3" fill="#1E88E5"/>
<g fill="#fff"><circle cx="-7.3" cy="-7.3" r="0.85"/><circle cx="-7.3" cy="-4.3" r="0.85"/><circle cx="-7.3" cy="-1.3" r="0.85"/><circle cx="-4.2" cy="-7.3" r="0.85"/><circle cx="-4.2" cy="-4.3" r="0.85"/><circle cx="-4.2" cy="-1.3" r="0.85"/><circle cx="-1.1" cy="-7.3" r="0.85"/><circle cx="-1.1" cy="-4.3" r="0.85"/><circle cx="-1.1" cy="-1.3" r="0.85"/></g></g></g>
<g transform="translate(1755.6,878)">
<circle r="12" fill="none" stroke="#9C27B0" stroke-width="1.5"/>
<path d="M4.4,-6.6L-4.8,1.3L0.1,0.7L-4.2,7L5,-1.5L0.3,-0.9Z" fill="#9C27B0" stroke="#9C27B0" stroke-width="0.5" stroke-linejoin="round"/>
<circle cx="8.5" cy="-8.3" r="3.2" fill="#F23645" stroke="#fff" stroke-width="1.8" paint-order="stroke"/>
<path d="M-13.3,-1.6Q-12.3,3.5 -7.2,4.5Q-12.3,5.5 -13.3,10.6Q-14.3,5.5 -19.4,4.5Q-14.3,3.5 -13.3,-1.6Z" fill="#7C4DFF" stroke="#fff" stroke-width="1.6" paint-order="stroke"/>
</g>
<text x="1944.00" y="107.20" font-size="15.5" fill="#131722" stroke="#131722" stroke-width="0.22" textLength="77.30" lengthAdjust="spacingAndGlyphs">150.00000</text>
<text x="1944.00" y="158.68" font-size="15.5" fill="#131722" stroke="#131722" stroke-width="0.22" textLength="77.30" lengthAdjust="spacingAndGlyphs">142.00000</text>
<text x="1944.00" y="213.15" font-size="15.5" fill="#131722" stroke="#131722" stroke-width="0.22" textLength="77.30" lengthAdjust="spacingAndGlyphs">134.00000</text>
<text x="1944.00" y="270.97" font-size="15.5" fill="#131722" stroke="#131722" stroke-width="0.22" textLength="77.30" lengthAdjust="spacingAndGlyphs">126.00000</text>
<text x="1944.00" y="332.59" font-size="15.5" fill="#131722" stroke="#131722" stroke-width="0.22" textLength="77.30" lengthAdjust="spacingAndGlyphs">118.00000</text>
<text x="1944.00" y="373.25" font-size="15.5" fill="#131722" stroke="#131722" stroke-width="0.22" textLength="77.30" lengthAdjust="spacingAndGlyphs">113.00000</text>
<text x="1944.00" y="415.76" font-size="15.5" fill="#131722" stroke="#131722" stroke-width="0.22" textLength="77.30" lengthAdjust="spacingAndGlyphs">108.00000</text>
<text x="1944.00" y="469.45" font-size="15.5" fill="#131722" stroke="#131722" stroke-width="0.22" textLength="77.30" lengthAdjust="spacingAndGlyphs">102.00000</text>
<text x="1944.00" y="507.03" font-size="15.5" fill="#131722" stroke="#131722" stroke-width="0.22" textLength="68.90" lengthAdjust="spacingAndGlyphs">98.00000</text>
<text x="1944.00" y="546.17" font-size="15.5" fill="#131722" stroke="#131722" stroke-width="0.22" textLength="68.90" lengthAdjust="spacingAndGlyphs">94.00000</text>
<text x="1944.00" y="587.02" font-size="15.5" fill="#131722" stroke="#131722" stroke-width="0.22" textLength="68.90" lengthAdjust="spacingAndGlyphs">90.00000</text>
<text x="1944.00" y="721.43" font-size="15.5" fill="#131722" stroke="#131722" stroke-width="0.22" textLength="68.90" lengthAdjust="spacingAndGlyphs">78.00000</text>
<text x="1944.00" y="770.88" font-size="15.5" fill="#131722" stroke="#131722" stroke-width="0.22" textLength="68.90" lengthAdjust="spacingAndGlyphs">74.00000</text>
<text x="1944.00" y="809.75" font-size="15.5" fill="#131722" stroke="#131722" stroke-width="0.22" textLength="68.90" lengthAdjust="spacingAndGlyphs">71.00000</text>
<text x="1944.00" y="850.31" font-size="15.5" fill="#131722" stroke="#131722" stroke-width="0.22" textLength="68.90" lengthAdjust="spacingAndGlyphs">68.00000</text>
<text x="1944.00" y="889.80" font-size="15.5" fill="#131722" stroke="#131722" stroke-width="0.22" textLength="68.90" lengthAdjust="spacingAndGlyphs">65.20000</text>
<text x="1943.60" y="924.00" font-size="15.5" fill="#131722" stroke="#131722" stroke-width="0.22" textLength="40.40" lengthAdjust="spacingAndGlyphs">75.00</text>
<text x="1943.60" y="970.10" font-size="15.5" fill="#131722" stroke="#131722" stroke-width="0.22" textLength="40.40" lengthAdjust="spacingAndGlyphs">50.00</text>
<text x="1943.60" y="1016.20" font-size="15.5" fill="#131722" stroke="#131722" stroke-width="0.22" textLength="40.40" lengthAdjust="spacingAndGlyphs">25.00</text>
<path d="M1933,366H2026.7Q2029.2,366 2029.2,368.5V383.9Q2029.2,386.4 2026.7,386.4H1933Z" fill="#2962FF"/>
<text x="1944.20" y="380.80" font-size="15.5" fill="#fff" textLength="77.30" lengthAdjust="spacingAndGlyphs">110.00000</text>
<path d="M1933,386.9H2026.7Q2029.2,386.9 2029.2,389.4V405.0Q2029.2,407.5 2026.7,407.5H1933Z" fill="#800080"/>
<text x="1944.20" y="401.60" font-size="15.5" fill="#fff" textLength="77.30" lengthAdjust="spacingAndGlyphs">109.58558</text>
<path d="M1933,578.5H2017.3Q2019.8,578.5 2019.8,581.0V596.0Q2019.8,598.5 2017.3,598.5H1933Z" fill="#800000"/>
<text x="1943.40" y="593.10" font-size="15.5" fill="#fff" textLength="68.90" lengthAdjust="spacingAndGlyphs">86.56045</text>
<path d="M1933,599.2H2017.3Q2019.8,599.2 2019.8,601.7V616.7Q2019.8,619.2 2017.3,619.2H1933Z" fill="#2962FF"/>
<text x="1943.40" y="613.80" font-size="15.5" fill="#fff" textLength="68.90" lengthAdjust="spacingAndGlyphs">86.48428</text>
<path d="M1933,620H2017.3Q2019.8,620 2019.8,622.5V654.8Q2019.8,657.3 2017.3,657.3H1933Z" fill="#089981"/>
<text x="1943.40" y="634.80" font-size="15.5" fill="#fff" textLength="68.90" lengthAdjust="spacingAndGlyphs">85.53100</text>
<text x="1943.40" y="651.80" font-size="15.5" fill="#fff" textLength="63.70" lengthAdjust="spacingAndGlyphs" fill-opacity="0.82">03:02:53</text>
<path d="M1933,658H2017.3Q2019.8,658 2019.8,660.5V676.5Q2019.8,679 2017.3,679H1933Z" fill="#2962FF"/>
<text x="1943.40" y="673.20" font-size="15.5" fill="#fff" textLength="68.90" lengthAdjust="spacingAndGlyphs">84.00000</text>
<path d="M1933,936.2H1988.5Q1991,936.2 1991,938.7V954.2Q1991,956.7 1988.5,956.7H1933Z" fill="#7E57C2"/>
<text x="1943.20" y="951.10" font-size="15.5" fill="#fff" textLength="40.40" lengthAdjust="spacingAndGlyphs">60.52</text>
<path d="M1933,969.2H1988.5Q1991,969.2 1991,971.7V987.2Q1991,989.7 1988.5,989.7H1933Z" fill="#FDD835"/>
<text x="1943.20" y="984.10" font-size="15.5" fill="#131722" stroke="#131722" stroke-width="0.22" textLength="40.40" lengthAdjust="spacingAndGlyphs">42.38</text>
<rect x="1937" y="37.7" width="94" height="31.3" rx="4.5" fill="#fff" stroke="#EDEEF0" stroke-width="1.2"/>
<text x="1948.00" y="59.00" font-size="15.5" fill="#131722" stroke="#131722" stroke-width="0.22" textLength="30.20" lengthAdjust="spacingAndGlyphs">USD</text>
<text x="12.30" y="1066.80" font-size="15" fill="#131722" stroke="#131722" stroke-width="0.22" textLength="16.70" lengthAdjust="spacingAndGlyphs">28</text>
<text x="117.91" y="1066.80" font-size="15" font-weight="bold" fill="#131722" textLength="38.40" lengthAdjust="spacingAndGlyphs">2026</text>
<text x="220.42" y="1066.80" font-size="15" fill="#131722" stroke="#131722" stroke-width="0.22" textLength="8.30" lengthAdjust="spacingAndGlyphs">4</text>
<text x="307.88" y="1066.80" font-size="15" fill="#131722" stroke="#131722" stroke-width="0.22" textLength="8.30" lengthAdjust="spacingAndGlyphs">7</text>
<text x="391.14" y="1066.80" font-size="15" fill="#131722" stroke="#131722" stroke-width="0.22" textLength="16.70" lengthAdjust="spacingAndGlyphs">10</text>
<text x="478.60" y="1066.80" font-size="15" fill="#131722" stroke="#131722" stroke-width="0.22" textLength="16.70" lengthAdjust="spacingAndGlyphs">13</text>
<text x="566.06" y="1066.80" font-size="15" fill="#131722" stroke="#131722" stroke-width="0.22" textLength="16.70" lengthAdjust="spacingAndGlyphs">16</text>
<text x="653.52" y="1066.80" font-size="15" fill="#131722" stroke="#131722" stroke-width="0.22" textLength="16.70" lengthAdjust="spacingAndGlyphs">19</text>
<text x="740.97" y="1066.80" font-size="15" fill="#131722" stroke="#131722" stroke-width="0.22" textLength="16.70" lengthAdjust="spacingAndGlyphs">22</text>
<text x="828.43" y="1066.80" font-size="15" fill="#131722" stroke="#131722" stroke-width="0.22" textLength="16.70" lengthAdjust="spacingAndGlyphs">25</text>
<text x="915.89" y="1066.80" font-size="15" fill="#131722" stroke="#131722" stroke-width="0.22" textLength="16.70" lengthAdjust="spacingAndGlyphs">28</text>
<text x="1028.36" y="1066.80" font-size="15" fill="#131722" stroke="#131722" stroke-width="0.22" textLength="25.00" lengthAdjust="spacingAndGlyphs">Feb</text>
<text x="1124.16" y="1066.80" font-size="15" fill="#131722" stroke="#131722" stroke-width="0.22" textLength="8.30" lengthAdjust="spacingAndGlyphs">4</text>
<text x="1211.62" y="1066.80" font-size="15" fill="#131722" stroke="#131722" stroke-width="0.22" textLength="8.30" lengthAdjust="spacingAndGlyphs">7</text>
<text x="1294.88" y="1066.80" font-size="15" fill="#131722" stroke="#131722" stroke-width="0.22" textLength="16.70" lengthAdjust="spacingAndGlyphs">10</text>
<text x="1382.34" y="1066.80" font-size="15" fill="#131722" stroke="#131722" stroke-width="0.22" textLength="16.70" lengthAdjust="spacingAndGlyphs">13</text>
<text x="1469.80" y="1066.80" font-size="15" fill="#131722" stroke="#131722" stroke-width="0.22" textLength="16.70" lengthAdjust="spacingAndGlyphs">16</text>
<text x="1557.26" y="1066.80" font-size="15" fill="#131722" stroke="#131722" stroke-width="0.22" textLength="16.70" lengthAdjust="spacingAndGlyphs">19</text>
<text x="1644.72" y="1066.80" font-size="15" fill="#131722" stroke="#131722" stroke-width="0.22" textLength="16.70" lengthAdjust="spacingAndGlyphs">22</text>
<text x="1732.18" y="1066.80" font-size="15" fill="#131722" stroke="#131722" stroke-width="0.22" textLength="16.70" lengthAdjust="spacingAndGlyphs">25</text>
<text x="1844.64" y="1066.80" font-size="15" fill="#131722" stroke="#131722" stroke-width="0.22" textLength="25.00" lengthAdjust="spacingAndGlyphs">Mar</text>
<text x="12.70" y="24.80" font-size="15.5" fill="#131722" stroke="#131722" stroke-width="0.22" textLength="494.80" lengthAdjust="spacingAndGlyphs">kanguhalubale created with TradingView.com, Feb 25, 2026 14:57 UTC</text>
<text x="22.85" y="58.10" font-size="15.5" fill="#131722" stroke="#131722" stroke-width="0.22" textLength="238.20" lengthAdjust="spacingAndGlyphs">Solana / U.S. Dollar · 6h · Bitstamp</text>
<text x="270.50" y="58.10" font-size="15.5" fill="#131722" stroke="#131722" stroke-width="0.22" textLength="10.50" lengthAdjust="spacingAndGlyphs">O</text>
<text x="282.75" y="58.10" font-size="15.5" fill="#089981" stroke="#089981" stroke-width="0.22" textLength="66.25" lengthAdjust="spacingAndGlyphs">83.37900</text>
<text x="359.20" y="58.10" font-size="15.5" fill="#131722" stroke="#131722" stroke-width="0.22" textLength="9.30" lengthAdjust="spacingAndGlyphs">H</text>
<text x="369.75" y="58.10" font-size="15.5" fill="#089981" stroke="#089981" stroke-width="0.22" textLength="66.25" lengthAdjust="spacingAndGlyphs">85.79800</text>
<text x="446.70" y="58.10" font-size="15.5" fill="#131722" stroke="#131722" stroke-width="0.22" textLength="6.60" lengthAdjust="spacingAndGlyphs">L</text>
<text x="454.25" y="58.10" font-size="15.5" fill="#089981" stroke="#089981" stroke-width="0.22" textLength="68.00" lengthAdjust="spacingAndGlyphs">82.89800</text>
<text x="532.25" y="58.10" font-size="15.5" fill="#131722" stroke="#131722" stroke-width="0.22" textLength="9.40" lengthAdjust="spacingAndGlyphs">C</text>
<text x="542.75" y="58.10" font-size="15.5" fill="#089981" stroke="#089981" stroke-width="0.22" textLength="64.50" lengthAdjust="spacingAndGlyphs">85.53100</text>
<text x="617.25" y="58.10" font-size="15.5" fill="#089981" stroke="#089981" stroke-width="0.22" textLength="134.50" lengthAdjust="spacingAndGlyphs">+2.15300 (+2.58%)</text>
<text x="22.85" y="79.10" font-size="15.5" fill="#131722" stroke="#131722" stroke-width="0.22" textLength="278.50" lengthAdjust="spacingAndGlyphs">SMAs (50, close, 100, close, 200, close)</text>
<text x="311.50" y="79.10" font-size="15.5" fill="#800000" stroke="#800000" stroke-width="0.22" textLength="67.50" lengthAdjust="spacingAndGlyphs">86.56045</text>
<text x="389.00" y="79.10" font-size="15.5" fill="#800080" stroke="#800080" stroke-width="0.22" textLength="74.00" lengthAdjust="spacingAndGlyphs">109.58558</text>
<text x="23.00" y="919.70" font-size="15.5" fill="#131722" stroke="#131722" stroke-width="0.22" textLength="98.00" lengthAdjust="spacingAndGlyphs">RSI (14, close)</text>
<text x="131.70" y="919.70" font-size="15.5" fill="#7E57C2" stroke="#7E57C2" stroke-width="0.22" textLength="38.60" lengthAdjust="spacingAndGlyphs">60.52</text>
<text x="180.20" y="919.70" font-size="15.5" fill="#FDD835" stroke="#FDD835" stroke-width="0.22" textLength="39.80" lengthAdjust="spacingAndGlyphs">42.38</text>
<path d="M15,1105H30V1123.5H22.3V1112.3H15Z" fill="#121317"/>
<circle cx="36.3" cy="1108.6" r="3.7" fill="#121317"/>
<path d="M43.2,1105H51.7L43.8,1123.5H35.4Z" fill="#121317"/>
<text x="60.90" y="1123.40" font-size="25.5" font-weight="bold" fill="#121317" textLength="148.80" lengthAdjust="spacingAndGlyphs" stroke="#121317" stroke-width="0.6">TradingView</text>
</svg>
</body></html>
